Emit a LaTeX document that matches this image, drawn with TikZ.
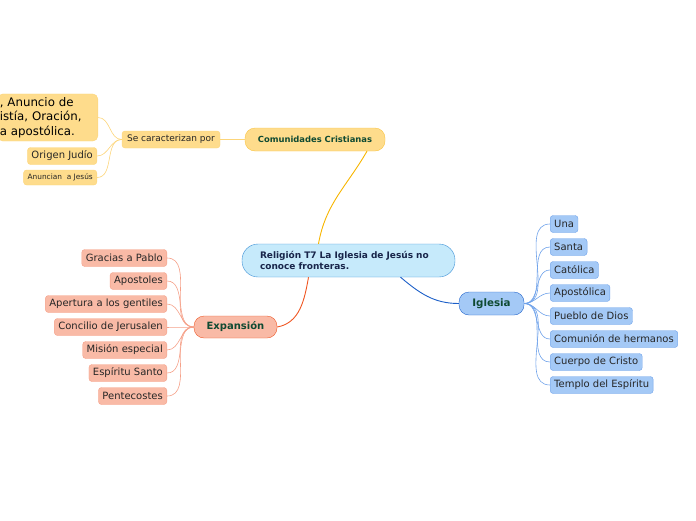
\documentclass[tikz,border=0pt]{standalone}
\usepackage{fontspec}
\setmainfont{DejaVu Sans}
\usetikzlibrary{positioning}

\definecolor{centralfill}{HTML}{C6EAFB}
\definecolor{centraldraw}{HTML}{3B8FD5}
\definecolor{centraltext}{HTML}{18254A}
\definecolor{topictext}{HTML}{0F4A32}
\definecolor{yelfill}{HTML}{FEDC8C}
\definecolor{yeldraw}{HTML}{F9C443}
\definecolor{yelleaf}{HTML}{FCD57A}
\definecolor{yellink}{HTML}{F7B500}
\definecolor{redfill}{HTML}{F9BAA6}
\definecolor{reddraw}{HTML}{EE5A2A}
\definecolor{redleaf}{HTML}{F5A088}
\definecolor{redlink}{HTML}{EF5521}
\definecolor{blufill}{HTML}{A4C9F6}
\definecolor{bludraw}{HTML}{2566CC}
\definecolor{bluleaf}{HTML}{6FA2EA}
\definecolor{blulink}{HTML}{1C5FC8}

\tikzset{
  topic/.style={draw, rounded corners=10pt, minimum height=23pt, font=\bfseries\fontsize{8.4}{10}\selectfont, text=topictext},
  leaf/.style={draw, rounded corners=3pt, minimum height=17pt, inner xsep=4pt, inner ysep=0pt, text=black!85, font=\fontsize{10}{12}\selectfont},
  yleaf/.style={leaf, fill=yelfill, draw=yelleaf},
  rleaf/.style={leaf, fill=redfill, draw=redleaf},
  bleaf/.style={leaf, fill=blufill, draw=bluleaf},
}

\begin{document}
\begin{tikzpicture}[x=1pt, y=-1pt]
  \useasboundingbox (0,0) rectangle (696,520);

  % Central topic
  \node[draw=centraldraw, fill=centralfill, rounded corners=16pt, minimum width=213pt, minimum height=33pt,
        text width=177pt, inner xsep=18pt, align=left, text=centraltext,
        font=\bfseries\fontsize{9}{11.5}\selectfont] (central) at (348.5,260.5)
        {Religión T7 La Iglesia de Jesús no\\conoce fronteras.};

  % Comunidades Cristianas
  \node[topic, fill=yelfill, draw=yeldraw, minimum width=140pt] (comunidades) at (315,139.5) {Comunidades Cristianas};
  \node[draw=yelleaf, fill=yelfill, rounded corners=3pt, minimum width=98pt, minimum height=17pt, inner xsep=3pt,
        font=\fontsize{9}{10}\selectfont, text=black!85] (caracterizan) at (171,139.5) {Se caracterizan por};
  \node[draw=yelleaf, fill=yelfill, rounded corners=5pt, anchor=east, minimum height=47pt, text width=96pt,
        inner xsep=2pt, align=left, font=\fontsize{11.8}{14.5}\selectfont, text=black] (rasgos) at (98,117.5)
        {, Anuncio de\\istía, Oración,\\a apostólica.};
  \node[yleaf, anchor=east] (origen) at (97,156) {Origen Judío};
  \node[yleaf, anchor=east, minimum height=15pt, font=\fontsize{7.4}{8}\selectfont] (anuncian) at (97,177.5) {Anuncian\ \ a Jesús};

  \draw[yellink, line width=0.9pt] ([xshift=-30pt]central.north) to[out=80, in=-120] ([xshift=52pt]comunidades.south);
  \draw[yelleaf, line width=0.6pt] (caracterizan.east) -- (comunidades.west);
  \foreach \n in {rasgos, origen, anuncian}
    \draw[yelleaf, line width=0.6pt] (caracterizan.west) to[out=180, in=0] (\n.east);

  % Expansion
  \node[topic, fill=redfill, draw=reddraw, minimum width=83pt, minimum height=22pt,
        font=\bfseries\fontsize{10}{11}\selectfont] (expansion) at (235.5,327) {Expansión};
  \draw[redlink, line width=0.9pt] ([xshift=-40pt]central.south) to[out=-100, in=10] (expansion.east);
  \foreach \txt [count=\i] in {Gracias a Pablo, Apostoles, Apertura a los gentiles, Concilio de Jerusalen,
                               Misión especial, Espíritu Santo, Pentecostes} {
    \node[rleaf, anchor=east] (exp\i) at (167,235+23*\i) {\txt};
    \draw[redleaf, line width=0.6pt] (expansion.west) to[out=180, in=0] (exp\i.east);
  }

  % Iglesia
  \node[topic, fill=blufill, draw=bludraw, minimum width=65pt, minimum height=23pt,
        font=\bfseries\fontsize{10.3}{11}\selectfont] (iglesia) at (491.5,303.5) {Iglesia};
  \draw[blulink, line width=0.9pt] ([xshift=52pt]central.south) to[out=-40, in=180] (iglesia.west);
  \foreach \txt [count=\i] in {Una, Santa, Católica, Apostólica, Pueblo de Dios, Comunión de hermanos,
                               Cuerpo de Cristo, Templo del Espíritu} {
    \node[bleaf, anchor=west] (igl\i) at (550,201+23*\i) {\txt};
    \draw[bluleaf, line width=0.6pt] (iglesia.east) to[out=0, in=180] (igl\i.west);
  }
\end{tikzpicture}
\end{document}
